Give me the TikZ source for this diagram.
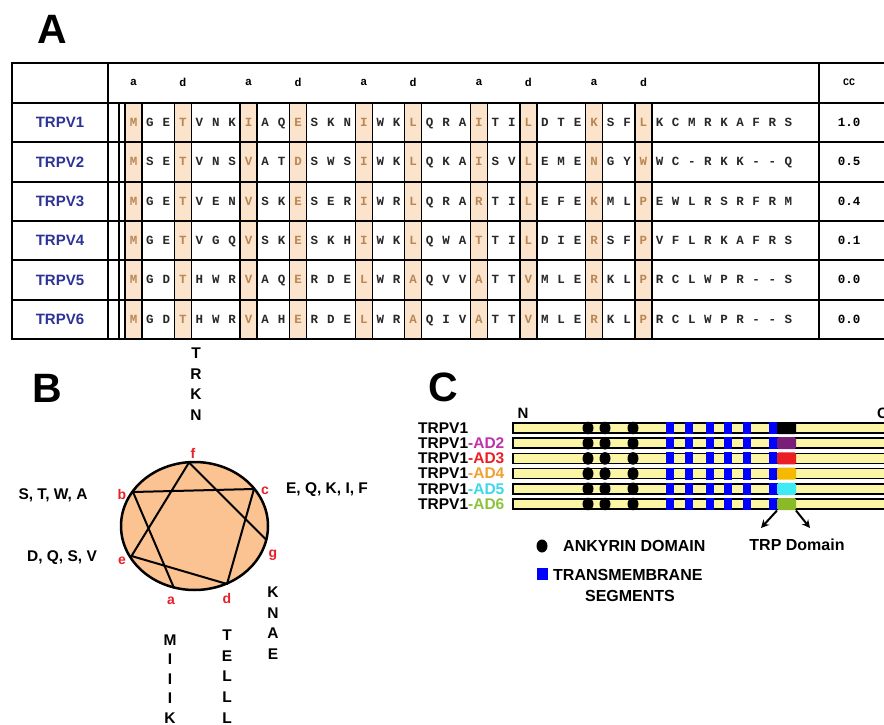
\documentclass[tikz,border=0pt]{standalone}
\usepackage{fontspec}
\setmainfont{Liberation Sans}
\newfontfamily\seqfont{Liberation Mono}
\usetikzlibrary{arrows.meta}
\definecolor{peach}{RGB}{252,228,204}
\definecolor{hlet}{RGB}{185,135,85}
\definecolor{seqgray}{RGB}{40,40,40}
\definecolor{namecol}{RGB}{45,50,150}
\definecolor{wheelfill}{RGB}{250,195,145}
\definecolor{lblred}{RGB}{232,32,42}
\definecolor{bary}{RGB}{250,246,165}
\definecolor{adtwo}{RGB}{190,50,170}
\definecolor{adthree}{RGB}{235,30,35}
\definecolor{adfour}{RGB}{240,160,50}
\definecolor{adfive}{RGB}{60,215,235}
\definecolor{adsix}{RGB}{140,195,60}
\definecolor{trptwo}{RGB}{120,30,120}
\definecolor{trpfour}{RGB}{245,185,0}
\definecolor{trpfive}{RGB}{60,235,245}
\definecolor{trpsix}{RGB}{140,185,40}
\def\seqA{M,G,E,T,V,N,K,I,A,Q,E,S,K,N,I,W,K,L,Q,R,A,I,T,I,L,D,T,E,K,S,F,L,K,C,M,R,K,A,F,R,S}
\def\seqB{M,S,E,T,V,N,S,V,A,T,D,S,W,S,I,W,K,L,Q,K,A,I,S,V,L,E,M,E,N,G,Y,W,W,C,-,R,K,K,-,-,Q}
\def\seqC{M,G,E,T,V,E,N,V,S,K,E,S,E,R,I,W,R,L,Q,R,A,R,T,I,L,E,F,E,K,M,L,P,E,W,L,R,S,R,F,R,M}
\def\seqD{M,G,E,T,V,G,Q,V,S,K,E,S,K,H,I,W,K,L,Q,W,A,T,T,I,L,D,I,E,R,S,F,P,V,F,L,R,K,A,F,R,S}
\def\seqE{M,G,D,T,H,W,R,V,A,Q,E,R,D,E,L,W,R,A,Q,V,V,A,T,T,V,M,L,E,R,K,L,P,R,C,L,W,P,R,-,-,S}
\def\seqF{M,G,D,T,H,W,R,V,A,H,E,R,D,E,L,W,R,A,Q,I,V,A,T,T,V,M,L,E,R,K,L,P,R,C,L,W,P,R,-,-,S}
\tikzset{
  panellbl/.style={font=\fontsize{41}{44}\selectfont\bfseries, inner sep=0pt},
  namelbl/.style={font=\fontsize{15}{18}\selectfont\bfseries, text=namecol, inner sep=0pt},
  seqlet/.style={font=\seqfont\fontsize{12.5}{13}\selectfont\bfseries, inner sep=0pt, text height=7.5pt, text depth=0pt},
  hdrlet/.style={font=\seqfont\fontsize{11.5}{12}\selectfont\bfseries, inner sep=0pt},
  cclbl/.style={font=\seqfont\fontsize{12.5}{13}\selectfont\bfseries, inner sep=0pt, text height=7.5pt, text depth=0pt},
  tline/.style={line width=2pt},
  cline/.style={line width=1.5pt},
  wlbl/.style={font=\fontsize{14}{16}\selectfont\bfseries, text=lblred, inner sep=0pt},
  reslbl/.style={font=\fontsize{15.5}{20.5}\selectfont\bfseries, inner sep=0pt, align=center},
  clbl/.style={font=\fontsize{15.5}{17}\selectfont\bfseries, inner sep=0pt, anchor=west},
  legend/.style={font=\fontsize{16}{20}\selectfont\bfseries, inner sep=0pt},
  bar/.style={draw=black, line width=1.5pt, fill=bary},
  ank/.style={fill=black},
  tm/.style={fill=blue},
  arr/.style={line width=2pt, -{Stealth[length=8pt,width=8pt]}}
}
\begin{document}
\begin{tikzpicture}[x=1pt,y=-1pt]
\useasboundingbox (0,0) rectangle (884,725);
\clip (0,0) rectangle (884,725);
\fill[white] (0,0) rectangle (884,725);
% ---------- Panel A ----------
\node[panellbl] (labA) at (52,29) {A};
% peach columns
\foreach \i in {1,4,8,11,15,18,22,25,29,32}{
  \fill[peach] ({125+(\i-1)*16.45},103) rectangle ({142+(\i-1)*16.45},339);
}
% header letters
\foreach \i/\l in {1/a,4/d,8/a,11/d,15/a,18/d,22/a,25/d,29/a,32/d}{
  \node[hdrlet] (h\i) at ({133.5+(\i-1)*16.45},82) {\l};
}
\node[hdrlet, font=\seqfont\fontsize{10}{10}\selectfont\bfseries] (cchdr) at (849,82) {CC};
% rows
\foreach \r/\s/\nm/\cc in {1/\seqA/TRPV1/1.0, 2/\seqB/TRPV2/0.5, 3/\seqC/TRPV3/0.4, 4/\seqD/TRPV4/0.1, 5/\seqE/TRPV5/0.0, 6/\seqF/TRPV6/0.0}{
  \pgfmathsetmacro\yc{103+(\r-0.5)*39.33}
  \node[namelbl] (name\r) at (60,\yc) {\nm};
  \node[cclbl] (cc\r) at (849,\yc) {\cc};
  \edef\seqlist{\s}
  \foreach \ch [count=\i] in \seqlist {
    \pgfmathtruncatemacro\m{mod(\i-1,7)}
    \pgfmathtruncatemacro\hl{(\i<33)&&((\m==0)||(\m==3))}
    \pgfmathsetmacro\xx{\i<33 ? 133.5+(\i-1)*16.45 : 643.5+(\i-32)*16.1}
    \ifnum\hl=1 \def\lc{hlet}\else\def\lc{seqgray}\fi
    \node[seqlet, text=\lc] (s\r-\i) at (\xx,\yc) {\ch};
  }
}
% table lines
\foreach \i in {1,4,8,11,15,18,22,25,29,32}{
  \draw[cline] ({125+(\i-1)*16.45},103) -- ({125+(\i-1)*16.45},339);
  \draw[cline] ({142+(\i-1)*16.45},103) -- ({142+(\i-1)*16.45},339);
}
\foreach \y in {103,142.33,181.67,221,260.33,299.67}{
  \draw[tline] (12,\y) -- (900,\y);
}
\draw[line width=1.2pt] (119,103) -- (119,339);
\draw[tline] (108,63) -- (108,339);
\draw[tline] (819,63) -- (819,339);
\draw[tline] (12,63) rectangle (900,339);
% ---------- Panel B ----------
\node[panellbl] (labB) at (47,388) {B};
\draw[line width=2.5pt, fill=wheelfill] (194.5,526) ellipse [x radius=73.5, y radius=64];
\coordinate (vf) at (189,462.5);
\coordinate (vc) at (254,489);
\coordinate (vg) at (266.5,540);
\coordinate (vd) at (227,584);
\coordinate (va) at (174,588);
\coordinate (ve) at (131.5,556);
\coordinate (vb) at (133,492);
\draw[line width=2pt, line join=round] (vb) -- (vc) -- (vd) -- (ve) -- (vf) -- (vg);
\draw[line width=2pt, line join=round] (vb) -- (va);
\node[wlbl] (lf) at (193,453) {f};
\node[wlbl] (lb) at (122,494) {b};
\node[wlbl] (lc) at (265,491) {c};
\node[wlbl] (lg) at (273,555) {g};
\node[wlbl] (le) at (122,561) {e};
\node[wlbl] (la) at (171,601) {a};
\node[wlbl] (ld) at (227,598) {d};
\node[reslbl] (rf) at (196,384) {T\\R\\K\\N};
\node[reslbl] (rb) at (53,495) {S, T, W, A};
\node[reslbl] (rc) at (327,490) {E, Q, K, I, F};
\node[reslbl] (re) at (62,558) {D, Q, S, V};
\node[reslbl] (rg) at (273,623) {K\\N\\A\\E};
\node[reslbl, font=\fontsize{15.5}{19.5}\selectfont\bfseries] (ra) at (170,679) {M\\I\\I\\I\\K};
\node[reslbl, font=\fontsize{15.5}{20.8}\selectfont\bfseries] (rd) at (227,676.5) {T\\E\\L\\L\\L};
% ---------- Panel C ----------
\node[panellbl] (labC) at (443,387) {C};
\node[legend, font=\fontsize{15}{17}\selectfont\bfseries] (nterm) at (523,413) {N};
\node[legend, font=\fontsize{15}{17}\selectfont\bfseries, anchor=west] (cterm) at (877,413) {C};
\foreach \k/\ad/\adc/\trpc in {0//black/black, 1/-AD2/adtwo/trptwo, 2/-AD3/adthree/adthree, 3/-AD4/adfour/trpfour, 4/-AD5/adfive/trpfive, 5/-AD6/adsix/trpsix}{
  \pgfmathsetmacro\yb{428+\k*15.2}
  \draw[bar] (513,\yb-5) rectangle (900,\yb+5);
  \foreach \ax in {588,605,633}{
    \fill[ank] (\ax,\yb) ellipse [x radius=5.5, y radius=6.3];
  }
  \foreach \tx in {670,689,710,728,747,773}{
    \fill[tm] (\tx-4,\yb-6) rectangle (\tx+4,\yb+6);
  }
  \fill[\trpc, rounded corners=1.5pt] (777,\yb-6) rectangle (796,\yb+6);
  \node[clbl] (cl\k) at (418,\yb) {TRPV1\textcolor{\adc}{\ad}};
}
\coordinate (trpL) at (777,510.5);
\coordinate (trpR) at (796,510.5);
\coordinate (arrL) at (761,528);
\coordinate (arrR) at (810,528);
\draw[arr] (trpL) -- (arrL);
\draw[arr] (trpR) -- (arrR);
\node[legend] (trpdom) at (797,545) {TRP Domain};
\fill[ank] (542,546) ellipse [x radius=5.5, y radius=6.5];
\node[legend, anchor=west] (ankl) at (563,546) {ANKYRIN DOMAIN};
\fill[tm] (537,568) rectangle (548,580);
\node[legend, anchor=west] (tml) at (553,575) {TRANSMEMBRANE};
\node[legend] (tml2) at (630,596) {SEGMENTS};
\end{tikzpicture}
\end{document}
